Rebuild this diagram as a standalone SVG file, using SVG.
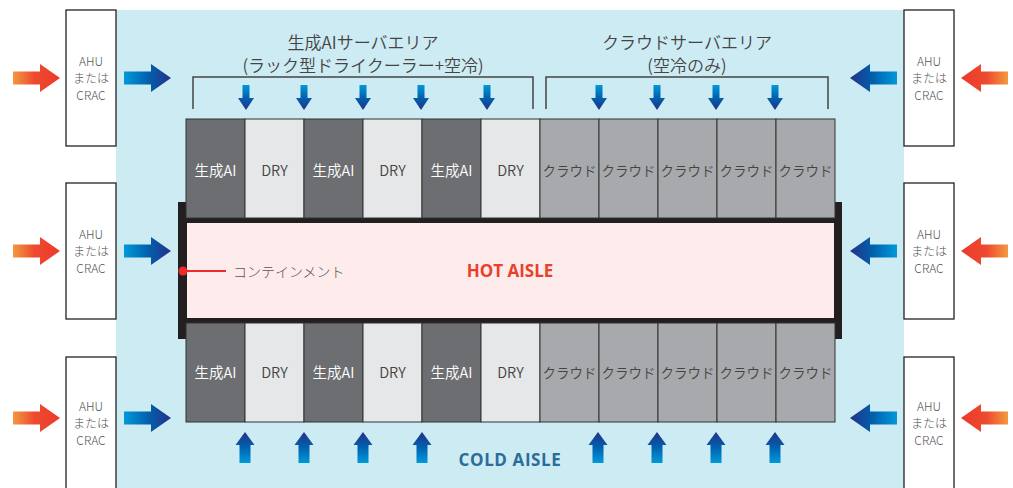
<svg xmlns="http://www.w3.org/2000/svg" width="1013" height="488" viewBox="0 0 1013 488">
<defs>
<linearGradient id="gRed" x1="0" y1="0" x2="1" y2="0"><stop offset="0" stop-color="#f29a3f"/><stop offset="0.45" stop-color="#ee4a30"/><stop offset="1" stop-color="#ec3a2b"/></linearGradient>
<linearGradient id="gBlue" x1="0" y1="0" x2="1" y2="0"><stop offset="0" stop-color="#0099da"/><stop offset="0.5" stop-color="#0062ae"/><stop offset="1" stop-color="#253089"/></linearGradient>
<linearGradient id="gDown" x1="0" y1="0" x2="0" y2="1"><stop offset="0" stop-color="#0099da"/><stop offset="0.5" stop-color="#0062ae"/><stop offset="1" stop-color="#253089"/></linearGradient>
<linearGradient id="gUp" x1="0" y1="1" x2="0" y2="0"><stop offset="0" stop-color="#0099da"/><stop offset="0.5" stop-color="#0062ae"/><stop offset="1" stop-color="#253089"/></linearGradient>
<path id="hArrow" d="M0,-6.5 H27 V-14 L47,0 L27,14 V6.5 H0 Z"/>
<path id="dArrow" d="M-3.5,0 H3.5 V13 H8 L0,25 L-8,13 H-3.5 Z"/>
<path id="uArrow" d="M0,0 L9.5,13 H5.5 V31 H-5.5 V13 H-9.5 Z"/>
</defs>
<style>
.jp{font-family:"Noto Sans CJK JP","Noto Sans",sans-serif;font-weight:300;}
.hdr{font-size:17px;fill:#444;text-anchor:middle;font-weight:350;}
.ahu{fill:#fff;stroke:#222;stroke-width:1.3;}
.ahut{font-size:12px;fill:#555;text-anchor:middle;}
.rk{stroke:#333;stroke-width:1;}
.ai{fill:#6d6e71;}
.dry{fill:#e6e7e8;}
.cl{fill:#a7a9ac;}
.rt{font-size:14.5px;text-anchor:middle;font-weight:350;}
.ct{font-size:13.5px;}
.wt{fill:#fff;}
.dt{fill:#444;}
.br{fill:none;stroke:#444;stroke-width:1.5;}
.lbl{font-family:"Open Sans","Liberation Sans",sans-serif;font-weight:bold;font-size:17px;text-anchor:middle;}
</style>
<rect x="116" y="10" width="788" height="478" fill="#cdebf3"/>

<g id="connectors">
<use href="#hArrow" x="13" y="78" fill="url(#gRed)"/>
<use href="#hArrow" x="13" y="251" fill="url(#gRed)"/>
<use href="#hArrow" x="13" y="418" fill="url(#gRed)"/>
<use href="#hArrow" x="124" y="78" fill="url(#gBlue)"/>
<use href="#hArrow" x="124" y="251" fill="url(#gBlue)"/>
<use href="#hArrow" x="124" y="418" fill="url(#gBlue)"/>
<use href="#hArrow" transform="translate(1008,78) scale(-1,1)" fill="url(#gRed)"/>
<use href="#hArrow" transform="translate(1008,251) scale(-1,1)" fill="url(#gRed)"/>
<use href="#hArrow" transform="translate(1008,418) scale(-1,1)" fill="url(#gRed)"/>
<use href="#hArrow" transform="translate(897,78) scale(-1,1)" fill="url(#gBlue)"/>
<use href="#hArrow" transform="translate(897,251) scale(-1,1)" fill="url(#gBlue)"/>
<use href="#hArrow" transform="translate(897,418) scale(-1,1)" fill="url(#gBlue)"/>
<use href="#dArrow" x="246" y="85" fill="url(#gDown)"/>
<use href="#dArrow" x="304" y="85" fill="url(#gDown)"/>
<use href="#dArrow" x="363" y="85" fill="url(#gDown)"/>
<use href="#dArrow" x="421" y="85" fill="url(#gDown)"/>
<use href="#dArrow" x="487" y="85" fill="url(#gDown)"/>
<use href="#dArrow" x="599" y="85" fill="url(#gDown)"/>
<use href="#dArrow" x="657" y="85" fill="url(#gDown)"/>
<use href="#dArrow" x="716" y="85" fill="url(#gDown)"/>
<use href="#dArrow" x="775" y="85" fill="url(#gDown)"/>
<use href="#uArrow" x="245" y="432" fill="url(#gUp)"/>
<use href="#uArrow" x="304" y="432" fill="url(#gUp)"/>
<use href="#uArrow" x="363" y="432" fill="url(#gUp)"/>
<use href="#uArrow" x="422" y="432" fill="url(#gUp)"/>
<use href="#uArrow" x="598" y="432" fill="url(#gUp)"/>
<use href="#uArrow" x="657" y="432" fill="url(#gUp)"/>
<use href="#uArrow" x="716" y="432" fill="url(#gUp)"/>
<use href="#uArrow" x="775" y="432" fill="url(#gUp)"/>
<path class="br" d="M193,109 V77 H533 V109"/>
<path class="br" d="M546,109 V77 H828 V109"/>
</g>

<g id="ahu-l1"><rect class="ahu" x="66" y="10" width="50" height="136"/><text class="jp ahut"><tspan x="91" y="66">AHU</tspan><tspan x="91" y="83">または</tspan><tspan x="91" y="100">CRAC</tspan></text></g>
<g id="ahu-l2"><rect class="ahu" x="66" y="183" width="50" height="136"/><text class="jp ahut"><tspan x="91" y="239">AHU</tspan><tspan x="91" y="256">または</tspan><tspan x="91" y="273">CRAC</tspan></text></g>
<g id="ahu-l3"><rect class="ahu" x="66" y="357" width="50" height="140"/><text class="jp ahut"><tspan x="91" y="411">AHU</tspan><tspan x="91" y="428">または</tspan><tspan x="91" y="445">CRAC</tspan></text></g>
<g id="ahu-r1"><rect class="ahu" x="904" y="10" width="50" height="136"/><text class="jp ahut"><tspan x="929" y="66">AHU</tspan><tspan x="929" y="83">または</tspan><tspan x="929" y="100">CRAC</tspan></text></g>
<g id="ahu-r2"><rect class="ahu" x="904" y="183" width="50" height="136"/><text class="jp ahut"><tspan x="929" y="239">AHU</tspan><tspan x="929" y="256">または</tspan><tspan x="929" y="273">CRAC</tspan></text></g>
<g id="ahu-r3"><rect class="ahu" x="904" y="357" width="50" height="140"/><text class="jp ahut"><tspan x="929" y="411">AHU</tspan><tspan x="929" y="428">または</tspan><tspan x="929" y="445">CRAC</tspan></text></g>

<g id="headers">
<text class="jp hdr" x="363" y="49">生成AIサーバエリア</text>
<text class="jp hdr" x="363" y="72">(ラック型ドライクーラー+空冷)</text>
<text class="jp hdr" x="687" y="49">クラウドサーバエリア</text>
<text class="jp hdr" x="687" y="72">(空冷のみ)</text>
</g>

<g id="hot-aisle">
<rect x="187" y="223" width="647" height="95" fill="#fdeceb"/>
<rect x="187" y="218" width="647" height="5" fill="#231f20"/>
<rect x="187" y="318" width="647" height="5" fill="#231f20"/>
<rect x="178" y="202" width="9" height="137" fill="#231f20"/>
<rect x="834" y="202" width="8" height="137" fill="#231f20"/>
<text class="lbl" x="510" y="277" fill="#e8402a">HOT AISLE</text>
</g>

<g id="containment">
<line x1="183" y1="271" x2="226" y2="271" stroke="#ee2a2a" stroke-width="2"/>
<circle cx="183" cy="271" r="4.5" fill="#ee2a2a"/>
<text class="jp" x="233" y="277" font-size="14" fill="#555">コンテインメント</text>
</g>

<g id="rack-top">
<rect class="rk ai" x="186" y="119" width="59" height="99"/><text class="jp rt wt" x="215.5" y="176">生成AI</text>
<rect class="rk dry" x="245" y="119" width="59" height="99"/><text class="jp rt dt" x="274.5" y="176">DRY</text>
<rect class="rk ai" x="304" y="119" width="59" height="99"/><text class="jp rt wt" x="333.5" y="176">生成AI</text>
<rect class="rk dry" x="363" y="119" width="59" height="99"/><text class="jp rt dt" x="392.5" y="176">DRY</text>
<rect class="rk ai" x="422" y="119" width="59" height="99"/><text class="jp rt wt" x="451.5" y="176">生成AI</text>
<rect class="rk dry" x="481" y="119" width="59" height="99"/><text class="jp rt dt" x="510.5" y="176">DRY</text>
<rect class="rk cl" x="540" y="119" width="59" height="99"/><text class="jp rt ct dt" x="569.5" y="176">クラウド</text>
<rect class="rk cl" x="599" y="119" width="59" height="99"/><text class="jp rt ct dt" x="628.5" y="176">クラウド</text>
<rect class="rk cl" x="658" y="119" width="59" height="99"/><text class="jp rt ct dt" x="687.5" y="176">クラウド</text>
<rect class="rk cl" x="717" y="119" width="59" height="99"/><text class="jp rt ct dt" x="746.5" y="176">クラウド</text>
<rect class="rk cl" x="776" y="119" width="59" height="99"/><text class="jp rt ct dt" x="805.5" y="176">クラウド</text>
</g>

<g id="rack-bottom">
<rect class="rk ai" x="186" y="323" width="59" height="99"/><text class="jp rt wt" x="215.5" y="378">生成AI</text>
<rect class="rk dry" x="245" y="323" width="59" height="99"/><text class="jp rt dt" x="274.5" y="378">DRY</text>
<rect class="rk ai" x="304" y="323" width="59" height="99"/><text class="jp rt wt" x="333.5" y="378">生成AI</text>
<rect class="rk dry" x="363" y="323" width="59" height="99"/><text class="jp rt dt" x="392.5" y="378">DRY</text>
<rect class="rk ai" x="422" y="323" width="59" height="99"/><text class="jp rt wt" x="451.5" y="378">生成AI</text>
<rect class="rk dry" x="481" y="323" width="59" height="99"/><text class="jp rt dt" x="510.5" y="378">DRY</text>
<rect class="rk cl" x="540" y="323" width="59" height="99"/><text class="jp rt ct dt" x="569.5" y="378">クラウド</text>
<rect class="rk cl" x="599" y="323" width="59" height="99"/><text class="jp rt ct dt" x="628.5" y="378">クラウド</text>
<rect class="rk cl" x="658" y="323" width="59" height="99"/><text class="jp rt ct dt" x="687.5" y="378">クラウド</text>
<rect class="rk cl" x="717" y="323" width="59" height="99"/><text class="jp rt ct dt" x="746.5" y="378">クラウド</text>
<rect class="rk cl" x="776" y="323" width="59" height="99"/><text class="jp rt ct dt" x="805.5" y="378">クラウド</text>
</g>

<g id="cold-aisle">
<text class="lbl" x="510" y="466" fill="#2b6d99" letter-spacing="0.6">COLD AISLE</text>
</g>
</svg>
